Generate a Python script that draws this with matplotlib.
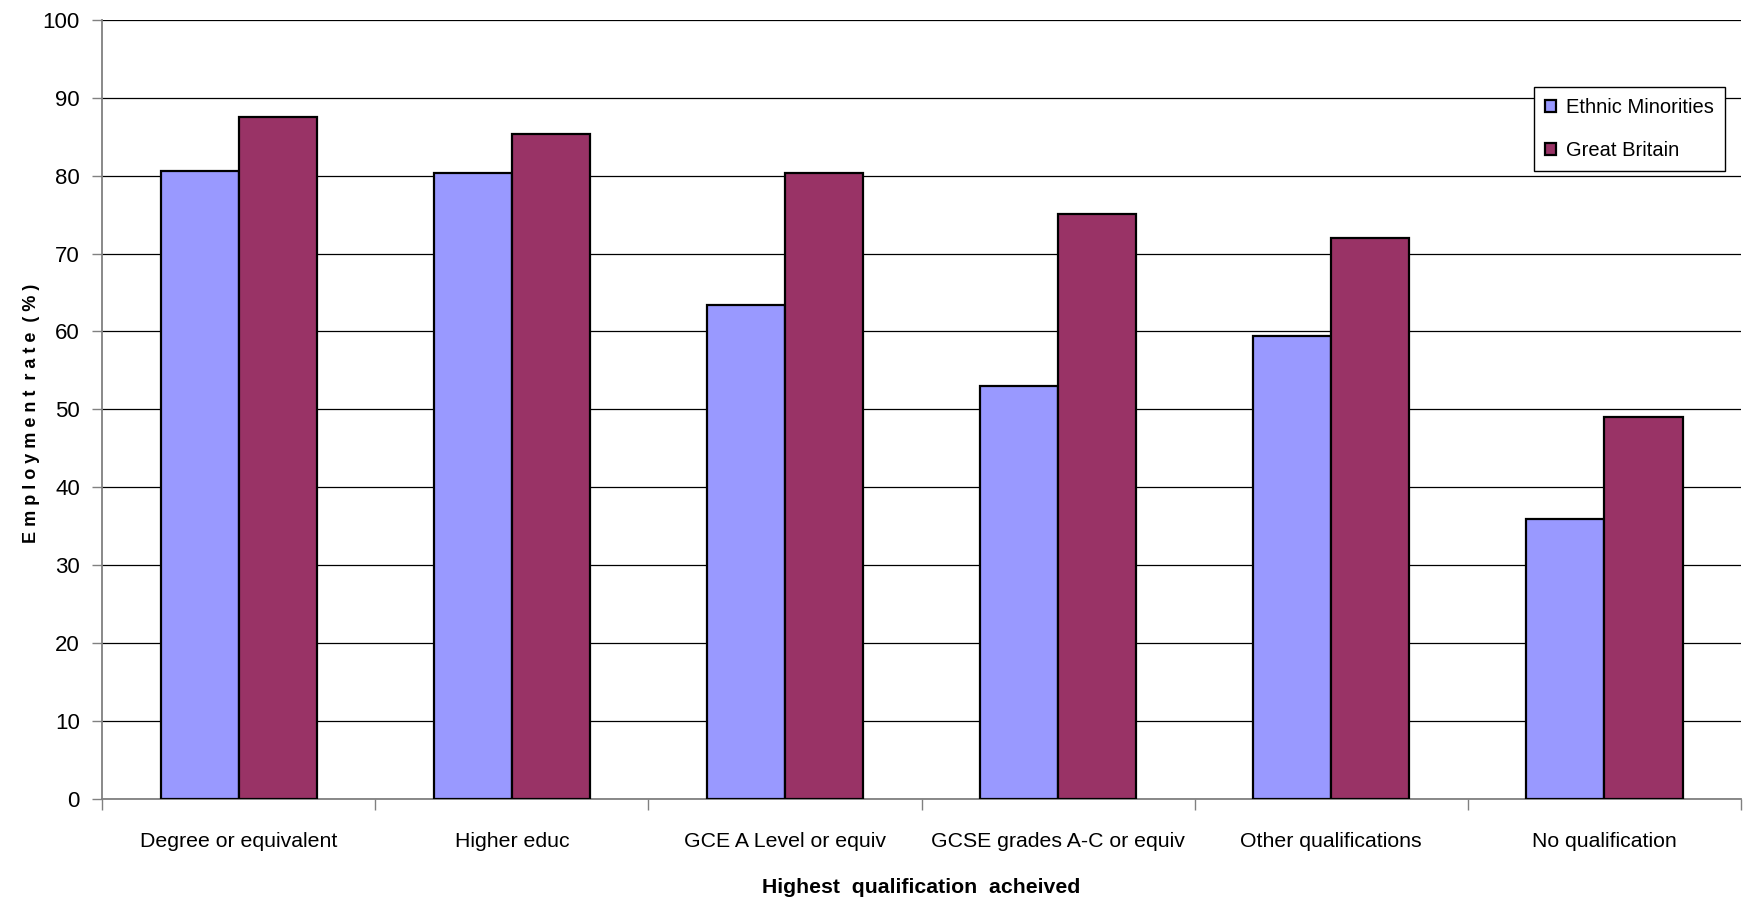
import matplotlib.pyplot as plt
import numpy as np

# Employment rate by highest qualification
categories = ['Degree or equivalent', 'Higher educ', 'GCE A Level or equiv',
              'GCSE grades A-C or equiv', 'Other qualifications', 'No qualification']
ethnic_minorities = [80.6, 80.3, 63.4, 53.0, 59.4, 35.9]
great_britain = [87.5, 85.3, 80.3, 75.1, 72.0, 49.0]

plt.rcParams['font.family'] = ['Liberation Sans', 'DejaVu Sans']

fig = plt.figure(figsize=(17.48, 9.01), dpi=100)
ax = fig.add_axes([0.0584, 0.1132, 0.9376, 0.8648])

x = np.arange(len(categories))
w = 0.286
ax.bar(x - w / 2, ethnic_minorities, w, color='#9999FF', edgecolor='black', lw=1.6,
       label='Ethnic Minorities', zorder=3)
ax.bar(x + w / 2, great_britain, w, color='#993366', edgecolor='black', lw=1.6,
       label='Great Britain', zorder=3)

ax.set_xlim(-0.5, len(categories) - 0.5)
ax.set_ylim(0, 100)
ax.set_yticks(np.arange(0, 101, 10))
ax.grid(axis='y', color='black', lw=0.9, zorder=0)

# ticks between groups, labels under group centres
ax.set_xticks(np.arange(-0.5, len(categories), 1.0))
ax.set_xticklabels([])
ax.set_xticks(x, minor=True)
ax.set_xticklabels(categories, minor=True, fontsize=15.3)
ax.tick_params(axis='x', which='major', direction='out', length=8, width=1, color='#808080')
ax.tick_params(axis='x', which='minor', length=0, pad=24)
ax.tick_params(axis='y', direction='out', length=7, width=1, color='#808080', labelsize=16, pad=9)

for s in ['top', 'right']:
    ax.spines[s].set_visible(False)
for s in ['left', 'bottom']:
    ax.spines[s].set_color('#808080')
    ax.spines[s].set_linewidth(1.3)

ax.set_xlabel('Highest  qualification  acheived', fontsize=15.3, fontweight='bold', va='center')
ax.xaxis.set_label_coords(0.5, -0.113)
ax.set_ylabel('E m p l o y m e n t  r a t e  ( % )', fontsize=13, fontweight='bold')
ax.yaxis.set_label_coords(-0.0378, 0.495)

leg = ax.legend(loc='upper left', bbox_to_anchor=(0.8737, 0.914), borderaxespad=0,
                fontsize=14.5, fancybox=False, edgecolor='black', framealpha=1,
                handlelength=0.55, handleheight=0.55, handletextpad=0.5,
                labelspacing=1.2, borderpad=0.55)
leg.get_frame().set_linewidth(1.0)

fig.savefig('out.png', dpi=100)
